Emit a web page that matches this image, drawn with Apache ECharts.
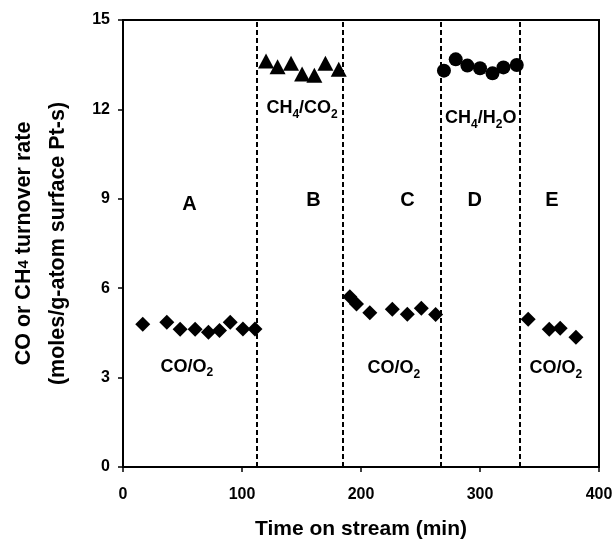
<!DOCTYPE html>
<html>
<head>
<meta charset="utf-8">
<script src="https://cdn.jsdelivr.net/npm/echarts@6/dist/echarts.min.js"></script>
<style>html,body{margin:0;padding:0;background:#fff}#c{width:616px;height:545px}</style>
</head>
<body>
<div id="c"></div>
<script>
// CO/O2 (diamonds)
var coX = [16.6, 36.8, 48.0, 60.6, 71.8, 81.1, 90.1, 100.8, 110.9,
           190.6, 196.2, 207.4, 226.3, 238.9, 250.7, 262.7,
           340.5, 358.2, 367.4, 380.6];
var coY = [4.79, 4.86, 4.62, 4.62, 4.52, 4.58, 4.86, 4.63, 4.63,
           5.71, 5.47, 5.18, 5.29, 5.13, 5.33, 5.12,
           4.96, 4.62, 4.66, 4.35];
// CH4/CO2 (triangles)
var co2X = [120.2, 129.9, 141.2, 150.5, 160.8, 170.1, 181.3];
var co2Y = [13.62, 13.43, 13.55, 13.19, 13.15, 13.55, 13.35];
// CH4/H2O (circles)
var h2oX = [269.7, 279.6, 289.4, 300.0, 310.5, 319.7, 330.9];
var h2oY = [13.30, 13.68, 13.47, 13.38, 13.21, 13.41, 13.49];
// switch times (dashed lines)
var switchX = [112.5, 184.4, 267, 333];
// annotations
var annoText = ['{b|A}', '{b|B}', '{b|C}', '{b|D}', '{b|E}',
                '{n|CO/O}{s|2}', '{n|CO/O}{s|2}', '{n|CO/O}{s|2}',
                '{n|CH}{s|4}{n|/CO}{s|2}', '{n|CH}{s|4}{n|/H}{s|2}{n|O}'];
var annoX = [55.8, 160, 239, 295.6, 360.4, 53.6, 227.6, 363.8, 150.5, 300.6];
var annoY = [8.8, 8.96, 8.96, 8.96, 8.96, 3.37, 3.31, 3.31, 12.04, 11.70];

function pairs(xs, ys) { return xs.map(function (x, i) { return [x, ys[i]]; }); }

var FONT = 'Liberation Sans, Arial, sans-serif';
var chart = echarts.init(document.getElementById('c'), null, {renderer: 'canvas'});
chart.setOption({
  animation: false,
  backgroundColor: '#fff',
  grid: {left: 123, right: 17, top: 20, bottom: 78, show: true, borderColor: '#000', borderWidth: 2, backgroundColor: 'transparent'},
  xAxis: {
    type: 'value', min: 0, max: 400, interval: 100,
    name: 'Time on stream (min)', nameLocation: 'middle', nameGap: 52,
    nameTextStyle: {fontFamily: FONT, fontWeight: 'bold', fontSize: 21, color: '#000'},
    axisLine: {show: true, lineStyle: {color: '#000', width: 2}},
    axisTick: {show: true, length: 5, lineStyle: {color: '#000', width: 1.5}},
    axisLabel: {fontFamily: FONT, fontWeight: 'bold', fontSize: 16, color: '#000', margin: 20},
    splitLine: {show: false}
  },
  yAxis: {
    type: 'value', min: 0, max: 15, interval: 3,
    name: '{t|CO or CH}{s|4}{t| turnover rate}\n{t|(moles/g-atom surface Pt-s)}',
    nameLocation: 'middle', nameGap: 48, nameRotate: 90,
    nameTextStyle: {
      fontFamily: FONT, fontWeight: 'bold', fontSize: 21.5, color: '#000',
      rich: {
        t: {fontFamily: FONT, fontWeight: 'bold', fontSize: 21.5, color: '#000', lineHeight: 34},
        s: {fontFamily: FONT, fontWeight: 'bold', fontSize: 15, color: '#000'}
      }
    },
    axisLine: {show: true, lineStyle: {color: '#000', width: 2}},
    axisTick: {show: true, length: 5, lineStyle: {color: '#000', width: 1.5}},
    axisLabel: {fontFamily: FONT, fontWeight: 'bold', fontSize: 16, color: '#000', margin: 13},
    splitLine: {show: false}
  },
  series: [
    {
      type: 'scatter', name: 'CO/O2', data: pairs(coX, coY),
      symbol: 'diamond', symbolSize: 15, itemStyle: {color: '#000', opacity: 1},
      markLine: {
        silent: true, symbol: 'none', label: {show: false},
        lineStyle: {color: '#000', type: [5, 3], width: 2, opacity: 1},
        data: switchX.map(function (x) { return {xAxis: x}; })
      }
    },
    {type: 'scatter', name: 'CH4/CO2', data: pairs(co2X, co2Y), symbol: 'triangle', symbolSize: [16, 15], itemStyle: {color: '#000', opacity: 1}},
    {type: 'scatter', name: 'CH4/H2O', data: pairs(h2oX, h2oY), symbol: 'circle', symbolSize: 14, itemStyle: {color: '#000', opacity: 1}},
    {
      type: 'scatter', silent: true, symbolSize: 1, itemStyle: {color: 'rgba(0,0,0,0)', opacity: 1},
      data: annoX.map(function (x, i) { return {value: [x, annoY[i]], name: annoText[i]}; }),
      label: {
        show: true, position: 'inside', color: '#000', opacity: 1,
        formatter: function (p) { return p.name; },
        rich: {
          b: {fontFamily: FONT, fontWeight: 'bold', fontSize: 20, color: '#000'},
          n: {fontFamily: FONT, fontWeight: 'bold', fontSize: 18, color: '#000', lineHeight: 24},
          s: {fontFamily: FONT, fontWeight: 'bold', fontSize: 12, color: '#000', lineHeight: 12, verticalAlign: 'bottom'}
        }
      }
    }
  ]
});
</script>
</body>
</html>
